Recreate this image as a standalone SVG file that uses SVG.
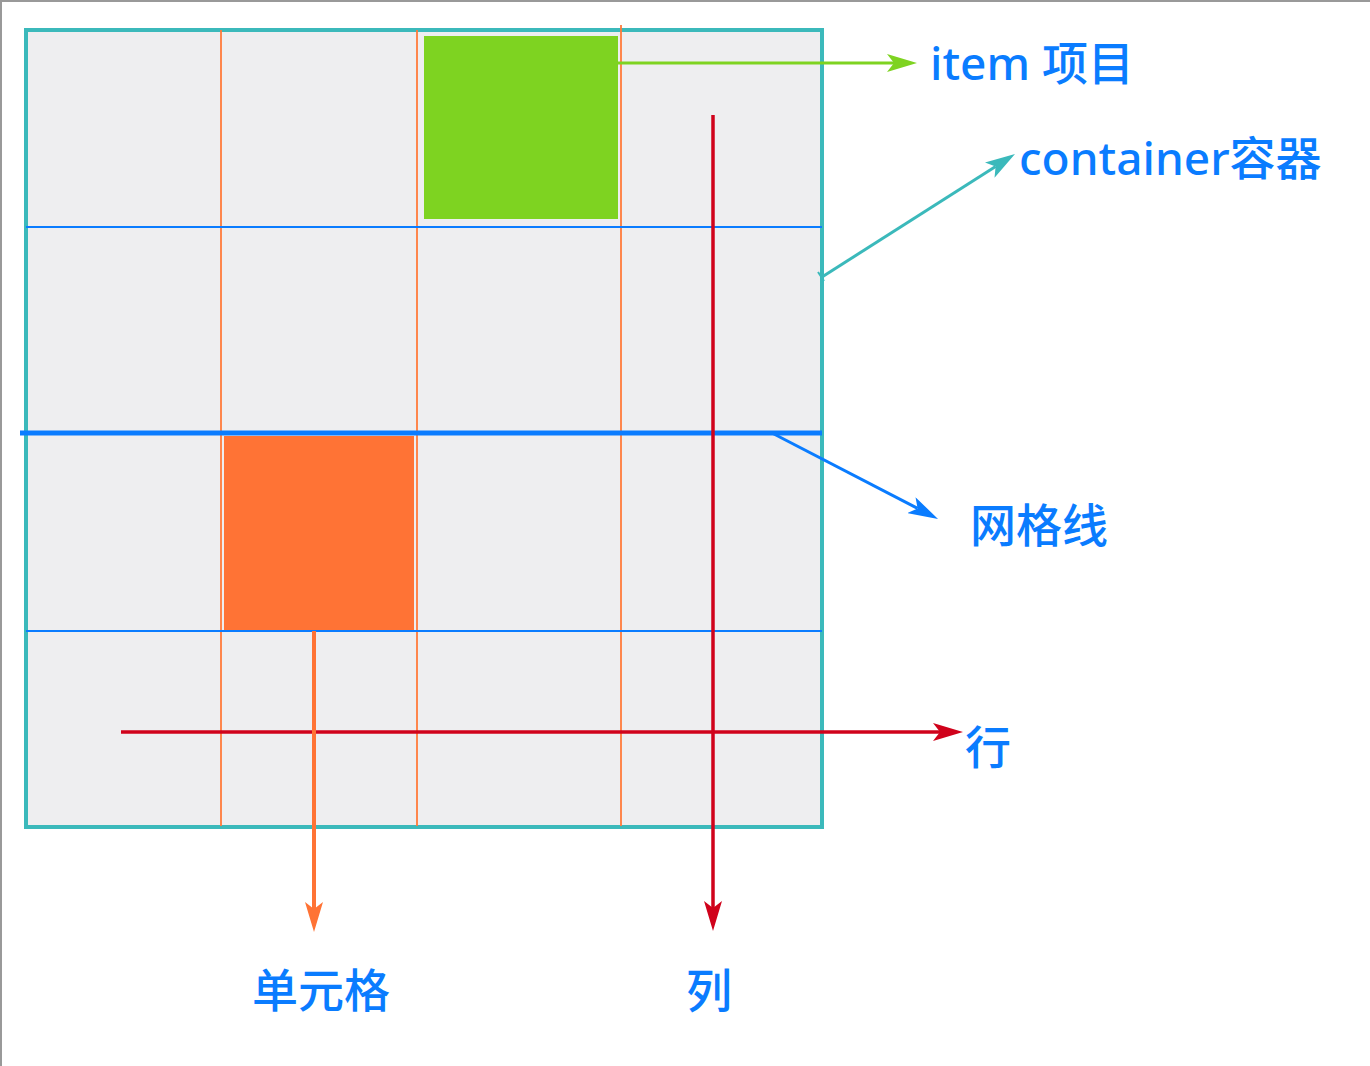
<svg xmlns="http://www.w3.org/2000/svg" width="1370" height="1066" viewBox="0 0 1370 1066">
<defs>
<style>
.lbl{font-family:"Noto Sans","Noto Sans CJK SC",sans-serif;font-size:46px;font-weight:500;fill:#0a7cff}
.vgrid{stroke:#ff7a3a;stroke-width:1.8;fill:none}
.hgrid{stroke:#0a7cff;stroke-width:1.8;fill:none}
.conn{fill:none;stroke-linecap:butt}
</style>
<marker id="ah-green" markerUnits="userSpaceOnUse" viewBox="0 0 30 18" markerWidth="30" markerHeight="18" refX="7" refY="9" orient="auto"><path d="M0,0 L30,9 L0,18 L7,9 z" fill="#7ed321"/></marker>
<marker id="ah-teal" markerUnits="userSpaceOnUse" viewBox="0 0 30 18" markerWidth="30" markerHeight="18" refX="7" refY="9" orient="auto"><path d="M0,0 L30,9 L0,18 L7,9 z" fill="#3bb9bb"/></marker>
<marker id="ah-blue" markerUnits="userSpaceOnUse" viewBox="0 0 30 18" markerWidth="30" markerHeight="18" refX="7" refY="9" orient="auto"><path d="M0,0 L30,9 L0,18 L7,9 z" fill="#0a7cff"/></marker>
<marker id="ah-red" markerUnits="userSpaceOnUse" viewBox="0 0 30 18" markerWidth="30" markerHeight="18" refX="7" refY="9" orient="auto"><path d="M0,0 L30,9 L0,18 L7,9 z" fill="#d0021b"/></marker>
<marker id="ah-orange" markerUnits="userSpaceOnUse" viewBox="0 0 30 18" markerWidth="30" markerHeight="18" refX="7" refY="9" orient="auto"><path d="M0,0 L30,9 L0,18 L7,9 z" fill="#ff7335"/></marker>
</defs>
<rect x="0" y="0" width="1370" height="1066" fill="#ffffff"/>
<path d="M1,1066 L1,1 L1370,1" fill="none" stroke="#999999" stroke-width="2"/>

<g id="container">
<rect x="26" y="30" width="796" height="797" fill="#eeeef0" stroke="#3bb9bb" stroke-width="4"/>
</g>

<g id="grid">
<line class="vgrid" x1="221" y1="30" x2="221" y2="826"/>
<line class="vgrid" x1="417" y1="30" x2="417" y2="826"/>
<line class="vgrid" x1="621" y1="25" x2="621" y2="826"/>
<line class="hgrid" x1="26" y1="227" x2="822" y2="227"/>
<line class="hgrid" x1="26" y1="631" x2="822" y2="631"/>
<line x1="20" y1="433" x2="822" y2="433" stroke="#0a7cff" stroke-width="5"/>
</g>

<g id="item">
<rect x="424" y="36" width="194" height="183" fill="#7ed321"/>
</g>

<g id="cell">
<rect x="224" y="436" width="190" height="194" fill="#ff7335"/>
</g>

<g id="connectors">
<line class="conn" x1="618" y1="63" x2="894" y2="63" stroke="#7ed321" stroke-width="3" marker-end="url(#ah-green)"/>
<line class="conn" x1="822" y1="277" x2="995.6" y2="166.4" stroke="#3bb9bb" stroke-width="3" marker-end="url(#ah-teal)"/>
<line x1="818" y1="272" x2="824" y2="281" stroke="#3bb9bb" stroke-width="2"/>
<line class="conn" x1="772" y1="433" x2="917.6" y2="508.4" stroke="#0a7cff" stroke-width="3" marker-end="url(#ah-blue)"/>
<line class="conn" x1="713" y1="115" x2="713" y2="908" stroke="#d0021b" stroke-width="3.5" marker-end="url(#ah-red)"/>
<line class="conn" x1="121" y1="732" x2="940" y2="732" stroke="#d0021b" stroke-width="3.5" marker-end="url(#ah-red)"/>
<line class="conn" x1="314" y1="631" x2="314" y2="909" stroke="#ff7335" stroke-width="4" marker-end="url(#ah-orange)"/>
</g>

<g id="labels">
<text class="lbl" x="930" y="80">item 项目</text>
<text class="lbl" x="1019" y="175">container容器</text>
<text class="lbl" x="970" y="542">网格线</text>
<text class="lbl" x="965" y="764">行</text>
<text class="lbl" x="252" y="1007">单元格</text>
<text class="lbl" x="686" y="1007">列</text>
</g>
</svg>
